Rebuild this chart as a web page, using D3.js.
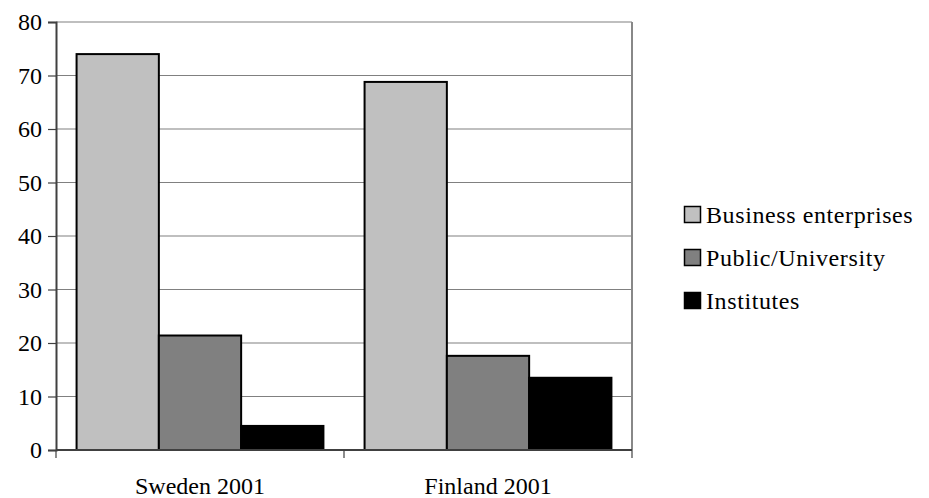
<!DOCTYPE html>
<html>
<head>
<meta charset="utf-8">
<script src="https://cdn.jsdelivr.net/npm/d3@7"></script>
</head>
<body style="margin:0; font-family:'Liberation Serif'">
<svg id="chart" width="929" height="498" style="display:block; font-family:'Liberation Serif'"></svg>
<script>
// R&D expenditure share by sector
const categories = ["Sweden 2001", "Finland 2001"];
const seriesNames = ["Business enterprises", "Public/University", "Institutes"];
const business = [74.0, 68.8];
const publicUniv = [21.4, 17.6];
const institutes = [4.5, 13.5];
const yTicks = [0, 10, 20, 30, 40, 50, 60, 70, 80];
const colors = ["#c0c0c0", "#808080", "#000000"];

const values = [business, publicUniv, institutes];
const FONT = "Liberation Serif";

const svg = d3.select("#chart");
const plot = { left: 56, right: 632, top: 22, bottom: 450 };

const x0 = d3.scaleBand().domain(categories).range([plot.left, plot.right]).paddingInner(0).paddingOuter(0);
const x1 = d3.scaleBand().domain(seriesNames).range([0, x0.bandwidth()]).paddingInner(0).paddingOuter(0.25);
const y = d3.scaleLinear().domain([0, 80]).range([plot.bottom, plot.top]);

// gridlines
svg.append("g").selectAll("line").data(yTicks.filter(d => d > 0)).join("line")
  .attr("x1", plot.left).attr("x2", plot.right)
  .attr("y1", d => y(d)).attr("y2", d => y(d))
  .attr("stroke", "#808080").attr("stroke-width", 1.2);

// right frame edge
svg.append("line")
  .attr("x1", plot.right).attr("x2", plot.right)
  .attr("y1", plot.top).attr("y2", plot.bottom)
  .attr("stroke", "#888").attr("stroke-width", 2);

// bars
const groups = svg.append("g").selectAll("g").data(categories).join("g")
  .attr("transform", d => `translate(${x0(d)},0)`);
groups.selectAll("rect").data((c, ci) => seriesNames.map((s, si) => ({ s, si, v: values[si][ci] })))
  .join("rect")
  .attr("x", d => x1(d.s))
  .attr("width", x1.bandwidth())
  .attr("y", d => y(d.v))
  .attr("height", d => y(0) - y(d.v))
  .attr("fill", d => colors[d.si])
  .attr("stroke", "#000").attr("stroke-width", 2);

// y axis
const yAxis = d3.axisLeft(y).tickValues(yTicks).tickSize(8).tickPadding(6).tickFormat(d3.format("d"));
const gy = svg.append("g").attr("transform", `translate(${plot.left},0)`).call(yAxis)
  .attr("font-family", FONT).attr("font-size", 24);
gy.select(".domain").attr("stroke", "#404040").attr("stroke-width", 2);
gy.selectAll(".tick line").attr("stroke", "#404040").attr("stroke-width", 1.2);
gy.selectAll(".tick text").attr("font-family", FONT).attr("font-size", 24).attr("fill", "#000");

// x axis
const xAxis = d3.axisBottom(x0).tickSize(0).tickPadding(27);
const gx = svg.append("g").attr("transform", `translate(0,${plot.bottom})`).call(xAxis)
  .attr("font-family", FONT).attr("font-size", 24);
gx.select(".domain").remove();
gx.selectAll(".tick text").attr("font-family", FONT).attr("font-size", 24).attr("fill", "#000");
svg.append("line").attr("x1", plot.left).attr("x2", plot.right)
  .attr("y1", plot.bottom).attr("y2", plot.bottom)
  .attr("stroke", "#404040").attr("stroke-width", 2);
// category separators on the base line
const sepX = [plot.left, plot.left + x0.bandwidth(), plot.right];
svg.append("g").selectAll("line").data(sepX).join("line")
  .attr("x1", d => d).attr("x2", d => d)
  .attr("y1", plot.bottom).attr("y2", plot.bottom + 8)
  .attr("stroke", "#404040").attr("stroke-width", 1.2);

// legend
const legend = svg.append("g").attr("transform", "translate(684,206)")
  .attr("font-family", FONT).attr("font-size", 24);
const item = legend.selectAll("g").data(seriesNames).join("g")
  .attr("transform", (d, i) => `translate(0,${i * 43})`);
item.append("rect").attr("x", 0.5).attr("y", 0.5).attr("width", 16).attr("height", 16)
  .attr("fill", (d, i) => colors[i]).attr("stroke", "#000").attr("stroke-width", 1.5);
item.append("text").attr("x", 22).attr("y", 17)
  .attr("font-family", FONT).attr("font-size", 24).attr("letter-spacing", 0.6)
  .attr("fill", "#000")
  .text(d => d);
</script>
</body>
</html>
